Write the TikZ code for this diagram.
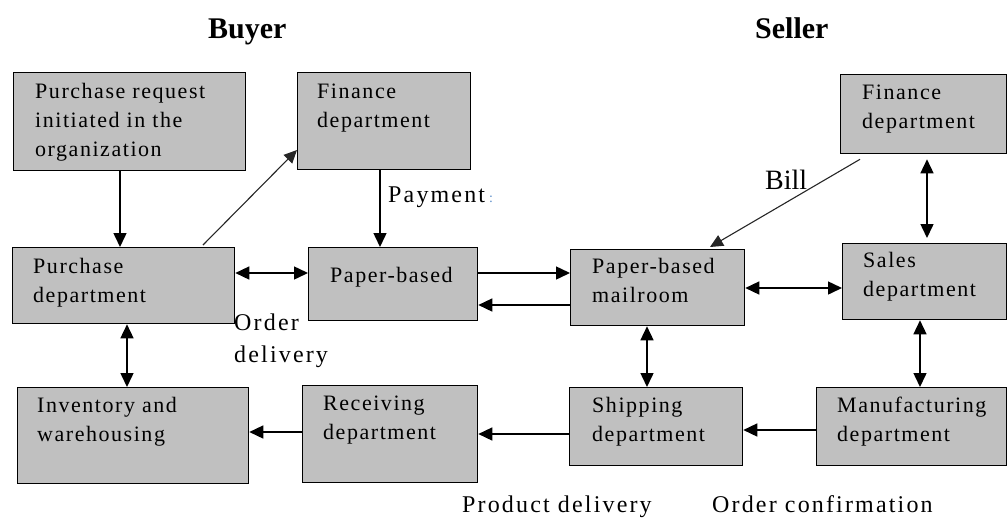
\documentclass[tikz,border=0pt]{standalone}
\usepackage{fontspec}
\setmainfont{Liberation Serif}
\newfontfamily\spacedserif[LetterSpace=7]{Liberation Serif}
\newfontfamily\lblserif[LetterSpace=9]{Liberation Serif}
\usetikzlibrary{arrows.meta,calc}
\definecolor{boxgray}{RGB}{192,192,192}
\definecolor{dotblue}{RGB}{90,140,200}
\newcommand{\boxfont}{\spacedserif\fontsize{22pt}{29pt}\selectfont}
\newcommand{\lblfont}{\lblserif\fontsize{24pt}{32pt}\selectfont}
\newcommand{\billfont}{\fontsize{28pt}{32pt}\selectfont}
\newcommand{\ttlfont}{\bfseries\fontsize{30pt}{34pt}\selectfont}
\newcommand{\ml}[1]{\begin{tabular}[t]{@{}l@{}}#1\end{tabular}}
\begin{document}
\begin{tikzpicture}[x=1pt,y=-1pt,
  box/.style={draw=black, line width=1.3pt, fill=boxgray, anchor=north west, inner sep=0pt},
  txt/.style={anchor=base west, inner sep=0pt, font=\boxfont, text=black},
  lbl/.style={anchor=base west, inner sep=0pt, font=\lblfont, text=black},
  ttl/.style={anchor=base west, inner sep=0pt, font=\ttlfont, text=black},
  arr/.style={line width=1.5pt, -{Triangle[length=14pt,width=13pt]}},
  darr/.style={line width=1.5pt, {Triangle[length=14pt,width=13pt]}-{Triangle[length=14pt,width=13pt]}},
  diag/.style={line width=1.1pt, draw=black!85, -{Triangle[length=13pt,width=12pt,fill=black!85]}}
]
\useasboundingbox (0,0) rectangle (1007,520);

% titles
\node[ttl] (buyer) at (208,38) {Buyer};
\node[ttl] (seller) at (755,38) {Seller};

% boxes
\node[box, minimum width=232pt, minimum height=98pt] (req) at (13,72) {};
\node[box, minimum width=173pt, minimum height=97pt] (finB) at (297,72) {};
\node[box, minimum width=222pt, minimum height=76pt] (pur) at (12,247) {};
\node[box, minimum width=169pt, minimum height=73pt] (pap) at (308,247) {};
\node[box, minimum width=174pt, minimum height=76pt] (mail) at (570,249) {};
\node[box, minimum width=166pt, minimum height=79pt] (finS) at (840,74) {};
\node[box, minimum width=164pt, minimum height=76pt] (sales) at (842,243) {};
\node[box, minimum width=231pt, minimum height=96pt] (inv) at (17,387) {};
\node[box, minimum width=175pt, minimum height=97pt] (rec) at (302,385) {};
\node[box, minimum width=173pt, minimum height=78pt] (ship) at (569,387) {};
\node[box, minimum width=190pt, minimum height=78pt] (man) at (816,387) {};

% box texts
\node[txt] (req-t) at ($(req.north west)+(22,26)$) {\ml{Purchase request\\initiated in the\\organization}};
\node[txt] (finB-t) at ($(finB.north west)+(20,26)$) {\ml{Finance\\department}};
\node[txt] (pur-t) at ($(pur.north west)+(21,26)$) {\ml{Purchase\\department}};
\node[txt] (pap-t) at ($(pap.north west)+(22,35)$) {Paper-based};
\node[txt] (mail-t) at ($(mail.north west)+(22,24)$) {\ml{Paper-based\\mailroom}};
\node[txt] (finS-t) at ($(finS.north west)+(22,25)$) {\ml{Finance\\department}};
\node[txt] (sales-t) at ($(sales.north west)+(21,24)$) {\ml{Sales\\department}};
\node[txt] (inv-t) at ($(inv.north west)+(20,25)$) {\ml{Inventory and\\warehousing}};
\node[txt] (rec-t) at ($(rec.north west)+(21,25)$) {\ml{Receiving\\department}};
\node[txt] (ship-t) at ($(ship.north west)+(23,25)$) {\ml{Shipping\\department}};
\node[txt] (man-t) at ($(man.north west)+(21,25)$) {\ml{Manufacturing\\department}};

% guide coordinates
\coordinate (vA) at (120,0);
\coordinate (vB) at (380,0);
\coordinate (vC) at (127,0);
\coordinate (vD) at (647,0);
\coordinate (vE) at (927,0);
\coordinate (vF) at (920,0);
\coordinate (hA) at (0,273);
\coordinate (hB) at (0,305);
\coordinate (hC) at (0,288);
\coordinate (hD) at (0,432);
\coordinate (hE) at (0,434);
\coordinate (hF) at (0,430);

% connectors
\draw[arr] (req.south -| vA) -- (pur.north -| vA);
\draw[diag] ($(pur.north west)+(191,-2)$) -- ($(finB.north west)+(0,78)$);
\draw[arr] (finB.south -| vB) -- (pap.north -| vB);
\draw[darr] (pur.east |- hA) -- (pap.west |- hA);
\draw[arr] (pap.east |- hA) -- (mail.west |- hA);
\draw[arr] (mail.west |- hB) -- (pap.east |- hB);
\draw[diag] ($(finS.south west)+(20,5)$) -- ($(mail.north west)+(140,-2)$);
\draw[darr] ($(finS.south -| vE)+(0,5)$) -- ($(sales.north -| vE)+(0,-5)$);
\draw[darr] (mail.east |- hC) -- (sales.west |- hC);
\draw[darr] (mail.south -| vD) -- (ship.north -| vD);
\draw[darr] (sales.south -| vF) -- (man.north -| vF);
\draw[arr] (man.west |- hF) -- (ship.east |- hF);
\draw[arr] (ship.west |- hE) -- (rec.east |- hE);
\draw[arr] (rec.west |- hD) -- (inv.east |- hD);
\draw[darr] (pur.south -| vC) -- (inv.north -| vC);

% labels
\node[lbl] (payment) at (388,202) {Payment\hspace{4pt}{\color{dotblue}\fontsize{14pt}{14pt}\selectfont:}};
\node[anchor=base west, inner sep=0pt, font=\billfont] (bill) at (765,189) {Bill};
\node[lbl] (orderdel) at (234,330) {\ml{Order\\delivery}};
\node[lbl] (proddel) at (462,512) {Product delivery};
\node[lbl] (ordconf) at (712,512) {Order confirmation};
\end{tikzpicture}
\end{document}
